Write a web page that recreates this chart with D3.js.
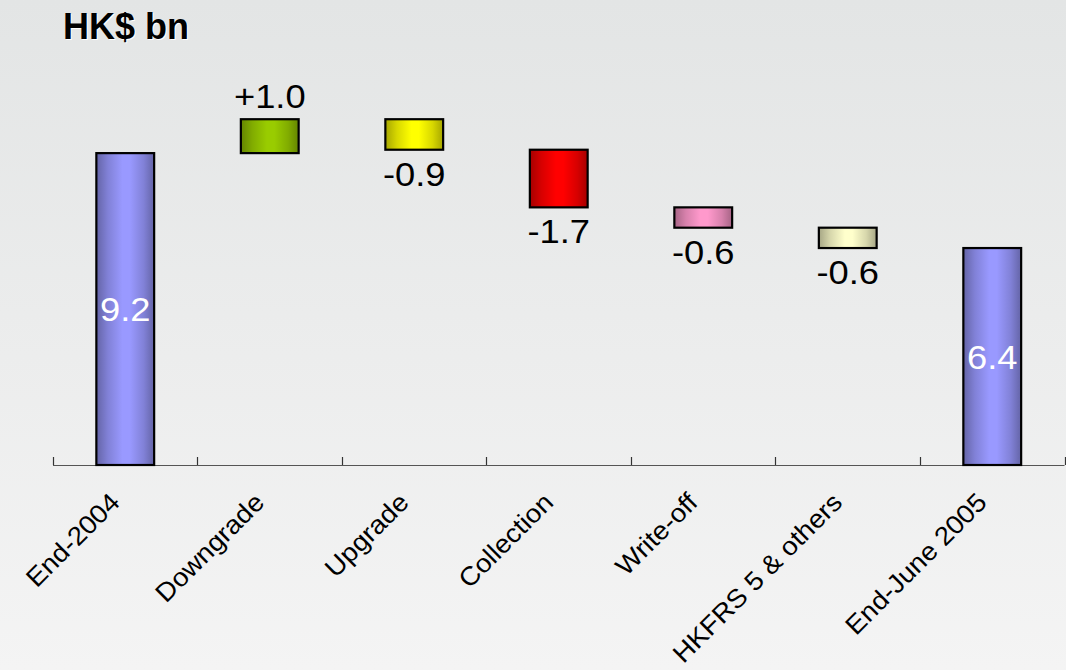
<!DOCTYPE html>
<html>
<head>
<meta charset="utf-8">
<script src="https://cdn.jsdelivr.net/npm/d3@7/dist/d3.min.js"></script>
<style>
  html, body { margin: 0; padding: 0; }
  body { width: 1066px; height: 670px; overflow: hidden; }
  svg { display: block; font-family: "Liberation Sans", Arial, sans-serif; }
</style>
</head>
<body>
<svg id="chart" width="1066" height="670"></svg>
<script>
// Impaired-loan movement, HK$ billion
const categories = ["End-2004", "Downgrade", "Upgrade", "Collection", "Write-off", "HKFRS 5 & others", "End-June 2005"];
const changes = [9.2, 1.0, -0.9, -1.7, -0.6, -0.6, 6.4];
const kinds = ["total", "delta", "delta", "delta", "delta", "delta", "total"];
const valueLabels = ["9.2", "+1.0", "-0.9", "-1.7", "-0.6", "-0.6", "6.4"];
const barColors = ["#9999ff", "#99cc00", "#ffff00", "#ff0000", "#ff99cc", "#ffffcc", "#9999ff"];
const unitLabel = "HK$ bn";

const W = 1066, H = 670;
const svg = d3.select("#chart");
const defs = svg.append("defs");

// Background wash
const bg = defs.append("linearGradient").attr("id", "bg").attr("x1", 0).attr("y1", 0).attr("x2", 0).attr("y2", 1);
bg.append("stop").attr("offset", 0).attr("stop-color", "#e3e5e5");
bg.append("stop").attr("offset", 1).attr("stop-color", "#f4f4f4");
svg.append("rect").attr("width", W).attr("height", H).attr("fill", "url(#bg)");

// Running totals -> bar extents
let running = 0;
const bars = categories.map((c, i) => {
  let lo, hi;
  if (kinds[i] === "total") {
    lo = 0; hi = changes[i]; running = changes[i];
  } else {
    const start = running, end = running + changes[i];
    lo = Math.min(start, end); hi = Math.max(start, end); running = end;
  }
  return { cat: c, lo, hi, v: changes[i], label: valueLabels[i], color: barColors[i], kind: kinds[i], i };
});

const x = d3.scaleBand().domain(categories).range([53, 1064.5]).paddingInner(0.6).paddingOuter(0.3);
const y = d3.scaleLinear().domain([0, 12]).range([465, 58.2]);

// Cylinder-like horizontal shading for every bar colour
barColors.forEach((col, i) => {
  const base = d3.color(col);
  const dark = base.darker(1.2);
  const mid = d3.interpolateRgb(dark, base)(0.55);
  const g = defs.append("linearGradient").attr("id", "shade" + i).attr("x1", 0).attr("y1", 0).attr("x2", 1).attr("y2", 0);
  [[0, dark], [0.2, mid], [0.45, base], [0.58, base], [0.82, mid], [1, dark]].forEach(([o, c]) => {
    g.append("stop").attr("offset", o).attr("stop-color", d3.color(c).formatHex());
  });
});

// Axis line and category boundary ticks
const step = x.step();
const tickPos = categories.map(c => x(c) + x.bandwidth() / 2 - step / 2);
tickPos.push(x(categories[categories.length - 1]) + x.bandwidth() / 2 + step / 2);
const axisG = svg.append("g");
axisG.append("line").attr("x1", tickPos[0]).attr("x2", tickPos[tickPos.length - 1])
  .attr("y1", y(0) + 0.5).attr("y2", y(0) + 0.5).attr("stroke", "#555").attr("stroke-width", 1.2);
axisG.selectAll("line.tick").data(tickPos).join("line").attr("class", "tick")
  .attr("x1", d => Math.round(d) + 0.5).attr("x2", d => Math.round(d) + 0.5)
  .attr("y1", y(0) - 8).attr("y2", y(0)).attr("stroke", "#333").attr("stroke-width", 1.2);

// Bars
svg.append("g").selectAll("rect").data(bars).join("rect")
  .attr("x", d => x(d.cat))
  .attr("y", d => y(d.hi))
  .attr("width", x.bandwidth())
  .attr("height", d => y(d.lo) - y(d.hi))
  .attr("fill", d => "url(#shade" + d.i + ")")
  .attr("stroke", "#000").attr("stroke-width", 2.2);

// Value labels (slightly wide lettering)
svg.append("g").selectAll("text").data(bars).join("text")
  .attr("transform", d => {
    const cx = x(d.cat) + x.bandwidth() / 2;
    let ty;
    if (d.kind === "total") ty = (y(d.lo) + y(d.hi)) / 2 + 12;
    else if (d.v > 0) ty = y(d.hi) - 11;
    else ty = y(d.lo) + 36;
    return `translate(${cx},${ty}) scale(1.1,1)`;
  })
  .attr("text-anchor", "middle")
  .attr("font-size", 33)
  .attr("fill", d => d.kind === "total" ? "#fff" : "#000")
  .text(d => d.label);

// Category labels, rotated
svg.append("g").selectAll("text").data(categories).join("text")
  .attr("transform", c => `translate(${x(c) + x.bandwidth() / 2 - 4},${y(0) + 39}) rotate(-45) scale(1.06,1)`)
  .attr("text-anchor", "end")
  .attr("font-size", 26)
  .attr("fill", "#000")
  .text(c => c);

// Unit title with a faint light offset
svg.append("text").attr("x", 64).attr("y", 40).attr("font-size", 36).attr("font-weight", "bold")
  .attr("fill", "#fff").text(unitLabel);
svg.append("text").attr("x", 63).attr("y", 39).attr("font-size", 36).attr("font-weight", "bold")
  .attr("fill", "#000").text(unitLabel);
</script>
</body>
</html>
